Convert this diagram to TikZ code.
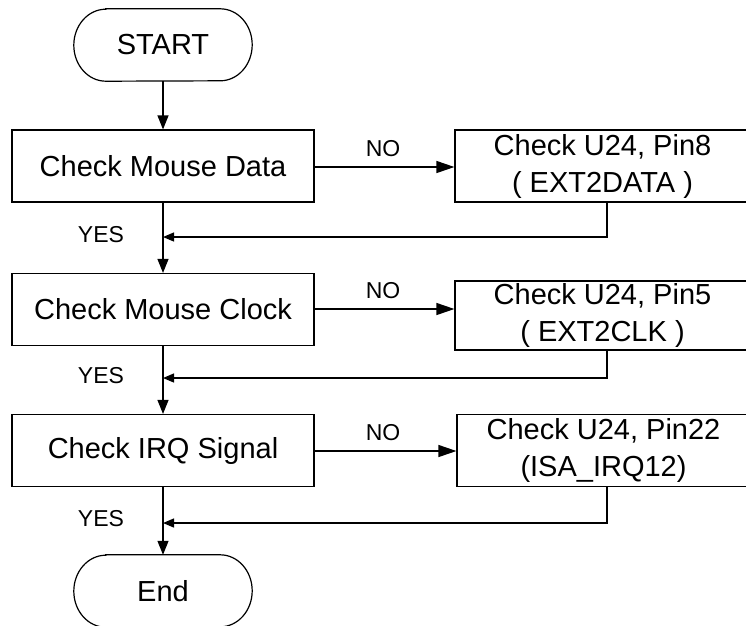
\documentclass[tikz,border=0pt]{standalone}
\usepackage{fontspec}
\setmainfont{Liberation Sans}
\usetikzlibrary{arrows.meta}
\begin{document}
\begin{tikzpicture}[x=1pt,y=-1pt,
  box/.style={draw, line width=1.2pt, minimum width=302pt, minimum height=72pt, inner sep=0pt, font=\fontsize{29}{36}\selectfont},
  rbox/.style={draw, line width=1.2pt, minimum width=295pt, minimum height=72pt, inner sep=0pt, align=center, font=\fontsize{29}{37}\selectfont},
  term/.style={minimum width=178pt, minimum height=72pt, inner sep=0pt, font=\fontsize{29}{36}\selectfont},
  lbl/.style={font=\fontsize{23}{28}\selectfont, inner sep=0pt},
  flow/.style={line width=1.2pt, -{Triangle[length=14pt,width=11pt]}},
  nflow/.style={line width=1.2pt, -{Triangle[length=18pt,width=12pt]}},
  back/.style={line width=1.2pt, -{Triangle[length=11pt,width=9pt]}},
  stadium/.style={line width=1.2pt},
]
\useasboundingbox (0,0) rectangle (746,625);
\clip (0,0) rectangle (746,625);

% terminals
\node[term] (start) at (163,45) {START};
\draw[stadium] ([xshift=32pt]start.north west) -- ([xshift=-32pt]start.north east)
  arc[start angle=90, end angle=-90, x radius=32pt, y radius=36pt]
  -- ([xshift=32pt]start.south west)
  arc[start angle=270, end angle=90, x radius=32pt, y radius=36pt] -- cycle;

\node[term] (end) at (163,591) {End};
\draw[stadium] ([xshift=32pt]end.north west) -- ([xshift=-32pt]end.north east)
  arc[start angle=90, end angle=-90, x radius=32pt, y radius=36pt]
  -- ([xshift=32pt]end.south west)
  arc[start angle=270, end angle=90, x radius=32pt, y radius=36pt] -- cycle;

% check boxes
\node[box] (b1) at (163,166) {Check Mouse Data};
\node[box] (b2) at (163,309.5) {Check Mouse Clock};
\node[box] (b3) at (163,450.5) {Check IRQ Signal};

\node[rbox] (r1) at (602.5,166) {Check U24, Pin8\\( EXT2DATA )};
\node[rbox, minimum height=69pt] (r2) at (602.5,315.5) {Check U24, Pin5\\( EXT2CLK )};
\node[rbox, minimum width=293pt] (r3) at (603.5,450.5) {Check U24, Pin22\\(ISA\_IRQ12)};

% main flow
\draw[flow] (start) -- (b1);
\draw[flow] (b1) -- (b2);
\draw[flow] (b2) -- (b3);
\draw[flow] (b3) -- (end);

% NO branches
\coordinate (n1) at (314,167);
\coordinate (n2) at (314,309);
\coordinate (n3) at (314,451);
\draw[nflow] (n1) -- (n1 -| r1.west);
\draw[nflow] (n2) -- (n2 -| r2.west);
\draw[nflow] (n3) -- (n3 -| r3.west);
\node[lbl] (no1) at (383,148.5) {NO};
\node[lbl] (no2) at (383,290.5) {NO};
\node[lbl] (no3) at (383,432.5) {NO};

% feedback
\coordinate (j1) at (163,237);
\coordinate (j2) at (163,378);
\coordinate (j3) at (163,523);
\coordinate (f1) at (607,237);
\coordinate (f2) at (607,378);
\coordinate (f3) at (607,523);
\draw[back] (r1.south -| f1) -- (f1) -- (j1);
\draw[back] (r2.south -| f2) -- (f2) -- (j2);
\draw[back] (r3.south -| f3) -- (f3) -- (j3);

\node[lbl] (yes1) at (101,235) {YES};
\node[lbl] (yes2) at (101,376) {YES};
\node[lbl] (yes3) at (101,519) {YES};
\end{tikzpicture}
\end{document}
